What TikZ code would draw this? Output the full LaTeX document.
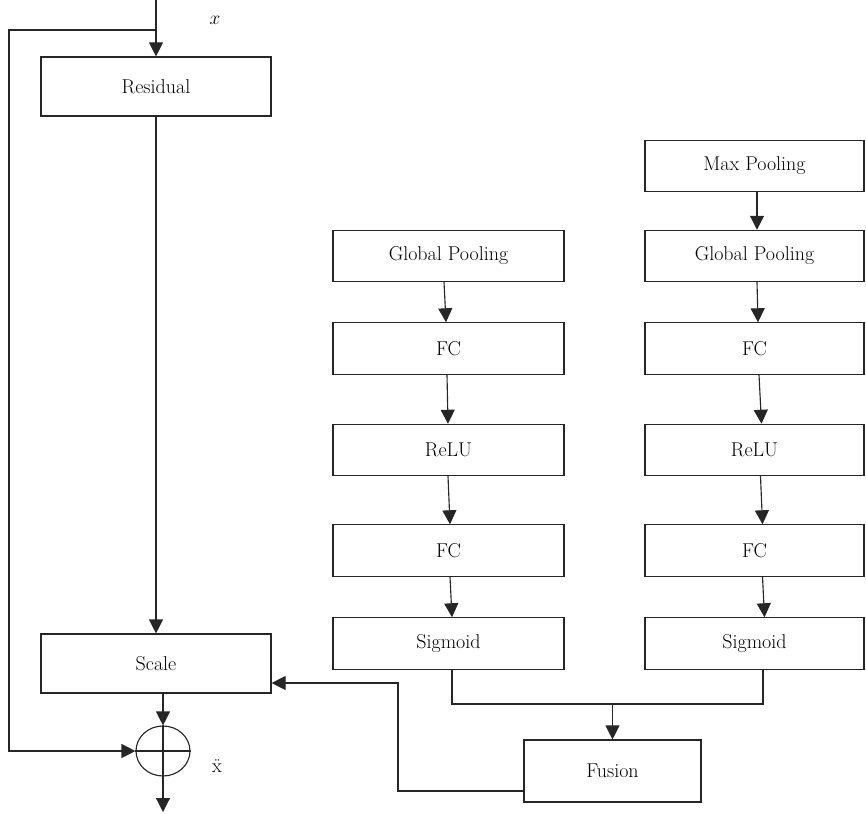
\documentclass[tikz,border=0pt]{standalone}
\usetikzlibrary{arrows.meta,calc,shapes.geometric}
\begin{document}
\begin{tikzpicture}[x=0.75pt,y=-0.75pt,
  line width=0.85pt, draw=black!85,
  box/.style={draw=black!85, line width=0.85pt, inner sep=0pt, align=center, font=\fontsize{15}{18}\selectfont},
  lbox/.style={box, minimum width=173.25pt, minimum height=38.5pt},
  rbox/.style={box, minimum width=164.25pt, minimum height=38.5pt},
  arr/.style={-{Triangle[width=10.5pt,length=10.5pt]}}]
\useasboundingbox (0,0) rectangle (866,813);
% left branch
\node[box, minimum width=172.5pt, minimum height=44.25pt] (res) at (156,86.5) {Residual};
\node[box, minimum width=172.5pt, minimum height=44.25pt] (scale) at (156,663.5) {Scale};
\node[draw=black!85, line width=0.85pt, ellipse, minimum width=40.5pt, minimum height=37.5pt, inner sep=0pt] (circ) at (163,751) {};
\draw (circ.west) -- (circ.east);
\draw (circ.north) -- (circ.south);
\coordinate (in) at (156,0);
\coordinate (fb) at (156,30);
\coordinate (fbA) at (9,30);
\coordinate (fbB) at (9,751);
\coordinate (out) at (163,812);
\node[font=\fontsize{15}{18}\selectfont] (xl) at (215,20) {$x$};
\node[font=\fontsize{15}{18}\selectfont] (xdd) at (217,766) {\"x};
% middle column
\node[lbox] (gp1) at (448.5,256) {Global Pooling};
\node[lbox] (fc1) at (448.5,348.5) {FC};
\node[lbox] (re1) at (448.5,450) {ReLU};
\node[lbox] (fc2) at (448.5,550.5) {FC};
\node[lbox] (sg1) at (448.5,643.5) {Sigmoid};
% right column
\node[rbox] (mp) at (754.5,166) {Max Pooling};
\node[rbox] (gp2) at (754.5,256) {Global Pooling};
\node[rbox] (fc3) at (754.5,348.5) {FC};
\node[rbox] (re2) at (754.5,450) {ReLU};
\node[rbox] (fc4) at (754.5,550.5) {FC};
\node[rbox] (sg2) at (754.5,643.5) {Sigmoid};
% fusion
\node[box, minimum width=132.75pt, minimum height=46.5pt] (fus) at (612.5,771) {Fusion};
\coordinate (j) at (612.5,704);
\coordinate (k) at (398,683);
% connectors: main path
\draw[arr] (in) -- (res.north);
\draw[arr] (fb) -- (fbA) -- (fbB) -- (circ.west);
\draw[arr] (res.south) -- (scale.north);
\draw[arr] ($(scale.south)+(7,0)$) -- (circ.north);
\draw[arr] (circ.south) -- (out);
% middle column arrows
\draw[arr] ($(gp1.south)+(-4.5,0)$) -- ($(fc1.north)+(-2.5,0)$);
\draw[arr] ($(fc1.south)+(-1.5,0)$) -- ($(re1.north)+(-0.5,0)$);
\draw[arr] ($(re1.south)+(-0.5,0)$) -- ($(fc2.north)+(1.5,0)$);
\draw[arr] ($(fc2.south)+(1.5,0)$) -- ($(sg1.north)+(3.5,0)$);
% right column arrows
\draw[arr] ($(mp.south)+(2.5,0)$) -- ($(gp2.north)+(2.5,0)$);
\draw[arr] ($(gp2.south)+(2.5,0)$) -- ($(fc3.north)+(3.5,0)$);
\draw[arr] ($(fc3.south)+(4.5,0)$) -- ($(re2.north)+(7,0)$);
\draw[arr] ($(re2.south)+(6,0)$) -- ($(fc4.north)+(8,0)$);
\draw[arr] ($(fc4.south)+(8,0)$) -- ($(sg2.north)+(10,0)$);
% merge into fusion
\draw ($(sg1.south)+(3.5,0)$) |- (j) -| ($(sg2.south)+(8.5,0)$);
\draw[arr] (j) -- (fus.north);
% fusion back to scale
\draw[arr] ($(fus.west)+(0,20)$) -| (k) -- (scale.east |- k);
\end{tikzpicture}
\end{document}
